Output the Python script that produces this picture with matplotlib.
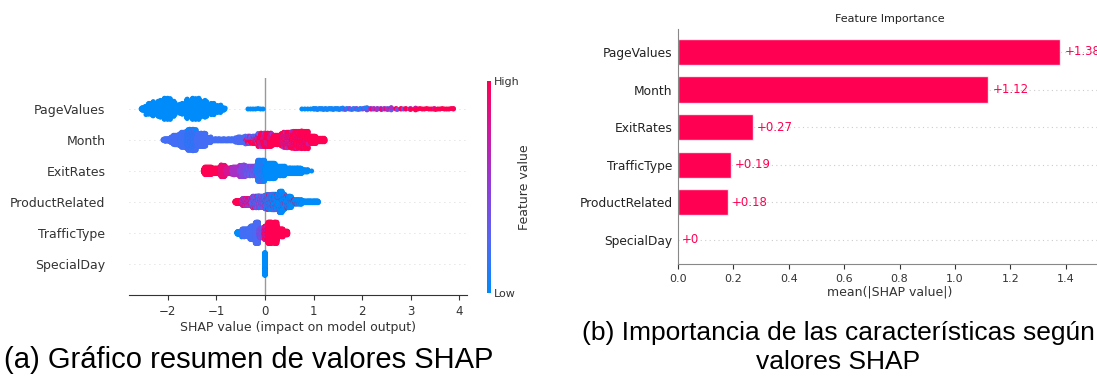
import numpy as np
import matplotlib
matplotlib.use("Agg")
import matplotlib.pyplot as plt
from matplotlib.colors import LinearSegmentedColormap
from matplotlib.cm import ScalarMappable
from matplotlib.colors import Normalize

# ---- data ----
# beeswarm: per feature, bins of SHAP values as (lo, hi, count, feature value 0..1)
swarm_features = ["PageValues", "Month", "ExitRates", "ProductRelated", "TrafficType", "SpecialDay"]

pagevalues_bins = [
    (-2.55, -2.45, 21, 0.0), (-2.45, -2.30, 64, 0.0), (-2.30, -2.15, 85, 0.0),
    (-2.15, -1.95, 156, 0.0), (-1.95, -1.85, 57, 0.0), (-1.85, -1.70, 53, 0.0),
    (-1.70, -1.60, 50, 0.0), (-1.60, -1.35, 195, 0.0), (-1.35, -1.20, 96, 0.0),
    (-1.20, -1.05, 64, 0.0), (-1.05, -0.90, 42, 0.0), (-0.90, -0.82, 11, 0.0),
    (-0.35, -0.04, 7, 0.0),
    (0.76, 1.00, 5, 0.0), (1.00, 1.60, 25, 0.05),
    (1.60, 2.10, 12, 0.1), (1.60, 2.10, 8, 0.45),
    (2.10, 2.60, 8, 0.3), (2.10, 2.60, 8, 0.6), (2.10, 2.60, 6, 0.9),
    (2.60, 3.10, 5, 0.4), (2.60, 3.10, 6, 0.75), (2.60, 3.10, 6, 1.0),
    (3.10, 3.88, 18, 1.0), (3.10, 3.88, 3, 0.8),
]
month_bins = [
    (-2.10, -1.93, 35, 0.2), (-1.93, -1.76, 116, 0.2), (-1.76, -1.62, 152, 0.18),
    (-1.62, -1.42, 200, 0.2), (-1.62, -1.42, 100, 0.05), (-1.42, -1.22, 190, 0.2),
    (-1.22, -1.11, 45, 0.2), (-1.11, -0.60, 83, 0.2), (-0.60, -0.40, 82, 0.22),
    (-0.40, -0.14, 70, 1.0), (-0.40, -0.14, 40, 0.25), (-0.40, -0.14, 31, 0.6),
    (-0.14, 0.14, 200, 1.0), (-0.14, 0.14, 67, 0.6),
    (0.14, 0.34, 136, 1.0),
    (0.34, 0.55, 150, 1.0), (0.34, 0.55, 78, 0.6),
    (0.55, 0.89, 350, 1.0), (0.55, 0.89, 66, 0.75),
    (0.89, 1.05, 87, 1.0), (1.05, 1.24, 52, 1.0),
]
exitrates_bins = [
    (-1.27, -1.10, 139, 1.0), (-1.10, -0.93, 104, 1.0), (-0.93, -0.82, 135, 0.9),
    (-0.82, -0.69, 80, 0.8), (-0.69, -0.52, 139, 0.6), (-0.52, -0.41, 135, 0.45),
    (-0.41, -0.17, 180, 0.3), (-0.41, -0.17, 65, 0.5),
    (-0.17, 0.0, 300, 0.05), (-0.17, 0.0, 81, 0.3),
    (0.0, 0.21, 343, 0.0), (0.21, 0.41, 204, 0.0), (0.41, 0.76, 214, 0.0),
    (0.76, 0.89, 32, 0.0), (0.96, 0.96, 1, 0.0),
]
productrelated_bins = [
    (-0.62, -0.48, 74, 1.0),
    (-0.48, -0.27, 120, 0.9), (-0.48, -0.27, 158, 0.55),
    (-0.27, 0.0, 250, 0.45), (-0.27, 0.0, 200, 0.25), (-0.27, 0.0, 80, 0.05), (-0.27, 0.0, 42, 1.0),
    (0.0, 0.14, 230, 0.05), (0.0, 0.14, 110, 0.35), (0.0, 0.14, 34, 1.0),
    (0.14, 0.41, 600, 0.0), (0.14, 0.41, 120, 0.3), (0.14, 0.41, 46, 1.0),
    (0.28, 0.36, 90, 0.0),
    (0.41, 0.55, 250, 0.0), (0.41, 0.55, 30, 0.3), (0.41, 0.55, 17, 1.0),
    (0.55, 0.76, 150, 0.0), (0.55, 0.76, 17, 1.0),
    (0.76, 1.10, 117, 0.0),
]
traffictype_bins = [
    (-0.58, -0.48, 65, 0.0), (-0.48, -0.31, 294, 0.2), (-0.31, -0.21, 303, 0.2),
    (-0.21, -0.13, 381, 0.22), (-0.13, -0.02, 150, 0.3), (-0.13, -0.02, 88, 0.5),
    (-0.02, 0.05, 120, 0.7), (-0.02, 0.05, 92, 1.0),
    (0.05, 0.14, 429, 1.0), (0.14, 0.18, 139, 1.0), (0.18, 0.25, 333, 1.0),
    (0.25, 0.37, 208, 1.0), (0.37, 0.47, 87, 1.0),
]
specialday_bins = [
    (0.0, 0.0, 599, 0.0), (0.0, 0.0, 1, 1.0),
]
swarm_bins = [pagevalues_bins, month_bins, exitrates_bins,
              productrelated_bins, traffictype_bins, specialday_bins]

# bar chart: mean(|SHAP value|)
bar_features = ["PageValues", "Month", "ExitRates", "TrafficType", "ProductRelated", "SpecialDay"]
bar_values = [1.38, 1.12, 0.27, 0.19, 0.18, 0.0]
bar_labels = ["+1.38", "+1.12", "+0.27", "+0.19", "+0.18", "+0"]

# shap-like red/blue colormap
red_blue = LinearSegmentedColormap.from_list("red_blue", [
    (0.0, (0.0, 0.545, 0.984)),
    (0.25, (0.33, 0.40, 0.95)),
    (0.5, (0.56, 0.24, 0.85)),
    (0.75, (0.80, 0.10, 0.64)),
    (1.0, (1.0, 0.0, 0.32)),
])
red_rgb = (1.0, 0.0, 0.32)
axis_color = "#333333"


def beeswarm(bins, row_height=0.4, nbins=100):
    """place points of each bin like shap does: stack them per quantized x"""
    xs, cs, fr = [], [], []
    for lo, hi, n, fv in bins:
        pts = np.linspace(lo, hi, n) if n > 1 else np.array([(lo + hi) / 2])
        xs.append(pts)
        cs.append(np.full(n, fv))
        fr.append((np.arange(n) + 0.5) / n)
    xs = np.concatenate(xs)
    cs = np.concatenate(cs)
    fr = np.concatenate(fr)
    quant = np.round(nbins * (xs - xs.min()) / (xs.max() - xs.min() + 1e-8))
    order = np.lexsort((fr, quant))
    ys = np.zeros(len(xs))
    layer, last = 0, -1
    for i in order:
        if quant[i] != last:
            layer = 0
        ys[i] = np.ceil(layer / 2) * ((layer % 2) * 2 - 1)
        layer += 1
        last = quant[i]
    ys *= 0.9 * (row_height / np.max(ys + 1))
    return xs[order], ys[order], cs[order]


fig = plt.figure(figsize=(10.97, 3.76), dpi=100)

# ---- (a) beeswarm summary ----
ax1 = fig.add_axes([129 / 1097, 81 / 376, 338 / 1097, 217 / 376])
n_feat = len(swarm_features)
for k, (name, bins) in enumerate(zip(swarm_features, swarm_bins)):
    pos = n_feat - 1 - k
    ax1.axhline(pos, color="#cccccc", lw=0.6, dashes=(1, 5), zorder=-1)
    x, y, c = beeswarm(bins)
    ax1.scatter(x, pos + y, c=c, cmap=red_blue, vmin=0, vmax=1, s=13,
                linewidths=0, zorder=3)
ax1.axvline(0, color="#999999", lw=1, zorder=-1)
ax1.set_xlim(-2.80, 4.16)
ax1.set_ylim(-1, n_feat)
ax1.set_yticks(range(n_feat))
ax1.set_yticklabels(swarm_features[::-1], fontsize=9)
ax1.tick_params("y", length=0, pad=17, labelcolor=axis_color)
ax1.tick_params("x", labelsize=8.5, color=axis_color, labelcolor=axis_color)
for s in ["top", "right", "left"]:
    ax1.spines[s].set_visible(False)
ax1.spines["bottom"].set_color(axis_color)
ax1.set_xlabel("SHAP value (impact on model output)", fontsize=9, color=axis_color, labelpad=2)

cax = fig.add_axes([487 / 1097, 83 / 376, 4 / 1097, 212 / 376])
cb = fig.colorbar(ScalarMappable(norm=Normalize(0, 1), cmap=red_blue), cax=cax, ticks=[0, 1])
cb.set_ticklabels(["Low", "High"])
cb.outline.set_visible(False)
cb.ax.tick_params(length=0, labelsize=8, pad=2, labelcolor=axis_color)
cb.set_label("Feature value", size=9, color=axis_color, labelpad=-1)

# ---- (b) bar chart ----
ax2 = fig.add_axes([678 / 1097, 112 / 376, 423 / 1097, 235 / 376])
ypos = np.arange(len(bar_features))[::-1]
for yp in ypos:
    ax2.axhline(yp, color="#cccccc", lw=0.8, dashes=(1, 3), zorder=-1)
ax2.barh(ypos, bar_values, 0.7, align="center", color=red_rgb,
         edgecolor=(1, 1, 1, 0.8), linewidth=1)
for yp, v, lab in zip(ypos, bar_values, bar_labels):
    ax2.text(v + 0.015, yp, lab, ha="left", va="center", color=red_rgb, fontsize=8.5)
ax2.set_xlim(0, 1.527)
ax2.set_ylim(-0.64, 5.61)
ax2.set_yticks(ypos)
ax2.set_yticklabels(bar_features, fontsize=8.8)
ax2.tick_params("y", length=0, pad=4, labelcolor="#222222")
ax2.tick_params("x", labelsize=8, color=axis_color, labelcolor=axis_color)
ax2.set_xticks([0.0, 0.2, 0.4, 0.6, 0.8, 1.0, 1.2, 1.4])
for s in ["top", "right"]:
    ax2.spines[s].set_visible(False)
ax2.spines["left"].set_color("#888888")
ax2.spines["bottom"].set_color("#888888")
ax2.set_xlabel("mean(|SHAP value|)", fontsize=9, color=axis_color, labelpad=1)
ax2.set_title("Feature Importance", fontsize=8, color="#222222", pad=5)

# ---- captions ----
cap = dict(ha="center", va="center", family="Liberation Sans", color="black")
fig.text(249 / 1097, 1 - 360 / 376, "(a) Gráfico resumen de valores SHAP", fontsize=21, **cap)
fig.text(838 / 1097, 1 - 333 / 376, "(b) Importancia de las características según", fontsize=19, **cap)
fig.text(838 / 1097, 1 - 362 / 376, "valores SHAP", fontsize=19, **cap)

fig.savefig("out.png", dpi=100)
